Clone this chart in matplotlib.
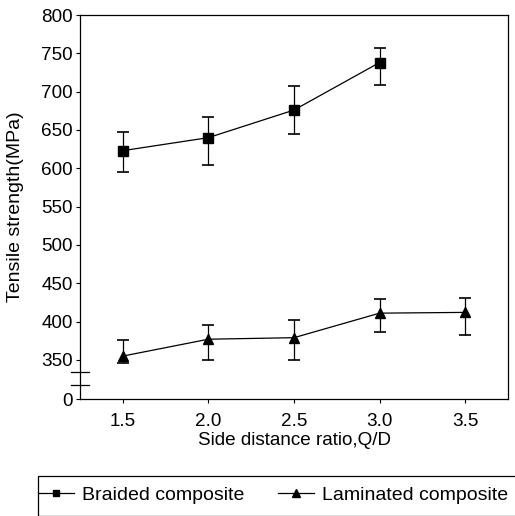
import numpy as np
import matplotlib
matplotlib.use("Agg")
import matplotlib.pyplot as plt
from matplotlib.lines import Line2D
from matplotlib.patches import Rectangle

plt.rcParams['font.family'] = ['Liberation Sans', 'DejaVu Sans']

x_braided = [1.5, 2.0, 2.5, 3.0]
braided = [623, 640, 676, 738]
braided_hi = [647, 667, 708, 757]
braided_lo = [595, 604, 645, 709]

x_laminated = [1.5, 2.0, 2.5, 3.0, 3.5]
laminated = [355, 377, 379, 411, 412]
laminated_hi = [376, 396, 402, 430, 431]
laminated_lo = [325, 349, 346, 387, 383]

xticks = [1.5, 2.0, 2.5, 3.0, 3.5]
xticklabels = ['1.5', '2.0', '2.5', '3.0', '3.5']
yticks = [0, 350, 400, 450, 500, 550, 600, 650, 700, 750, 800]

BREAK = 350.0
LOWPOS = 299.0
FS = 13.6


def fwd(v):
    v = np.asarray(v, dtype=float)
    return np.where(v >= BREAK, v, LOWPOS + v * (BREAK - LOWPOS) / BREAK)


def inv(u):
    u = np.asarray(u, dtype=float)
    return np.where(u >= BREAK, u, (u - LOWPOS) * BREAK / (BREAK - LOWPOS))


fig = plt.figure(figsize=(5.15, 5.16), dpi=100)
ax = fig.add_axes([80 / 515, 1 - 399 / 516, (508 - 80) / 515, (399 - 15) / 516])
ax.set_yscale('function', functions=(fwd, inv))
ax.set_ylim(0, 800)
ax.set_xlim(1.25, 3.75)


def errs(v, hi, lo):
    return [np.array(v) - np.array(lo), np.array(hi) - np.array(v)]


ax.errorbar(x_braided, braided, yerr=errs(braided, braided_hi, braided_lo),
            color='black', lw=0.9, marker='s', ms=6.5, capsize=4, elinewidth=0.9,
            capthick=1.2)
ax.errorbar(x_laminated, laminated, yerr=errs(laminated, laminated_hi, laminated_lo),
            color='black', lw=0.9, marker='^', ms=7.5, capsize=4, elinewidth=0.9,
            capthick=1.2)

ax.set_xticks(xticks)
ax.set_xticklabels(xticklabels)
ax.set_yticks(yticks)
ax.set_yticklabels([str(t) for t in yticks])
ax.minorticks_off()
ax.tick_params(direction='out', length=3, width=0.8, labelsize=FS, colors='black')
ax.tick_params(axis='x', pad=7)
ax.tick_params(axis='y', pad=2)
for s in ax.spines.values():
    s.set_linewidth(0.9)

# axis break marks
for yb in [0.07, 0.036]:
    ax.plot([-0.022, 0.022], [yb, yb], transform=ax.transAxes, color='black',
            lw=0.9, clip_on=False)

ax.set_ylabel('Tensile strength(MPa)', fontsize=14)
ax.yaxis.set_label_coords(-0.13, 0.5)
ax.set_xlabel('Side distance ratio,Q/D', fontsize=FS)
ax.xaxis.set_label_coords(0.502, -0.086)

handles = [Line2D([], [], color='black', lw=0.9, marker='s', ms=5),
           Line2D([], [], color='black', lw=0.9, marker='^', ms=6)]
leg = fig.legend(handles, ['Braided composite', 'Laminated composite'],
                 ncol=2, loc='center left', bbox_to_anchor=(38 / 515, 1 - 495 / 516),
                 frameon=False, fontsize=14,
                 handlelength=1.85, handletextpad=0.4, columnspacing=1.75,
                 borderaxespad=0.0, borderpad=0.0)

fig.patches.append(Rectangle((38 / 515, 0.5 / 516), 1.0, 40 / 516,
                             transform=fig.transFigure, fill=False,
                             edgecolor='black', lw=0.9, clip_on=False))

fig.savefig('out.png', dpi=100)
